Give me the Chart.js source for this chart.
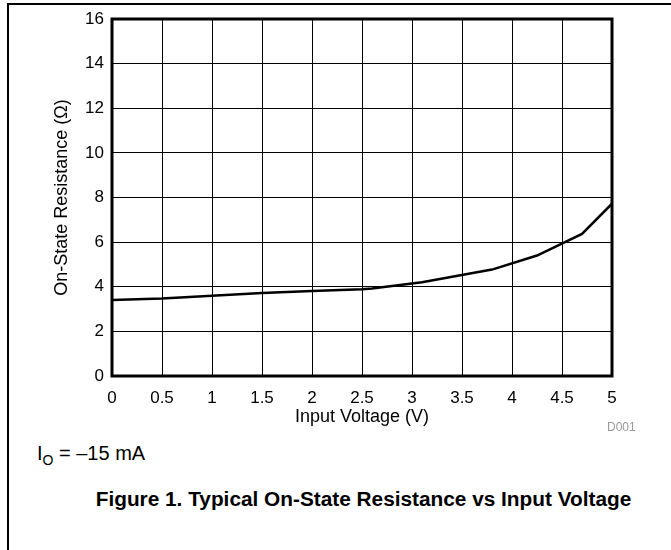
<!DOCTYPE html>
<html>
<head>
<meta charset="utf-8">
<script src="https://cdn.jsdelivr.net/npm/chart.js@4"></script>
<style>
  body { margin: 0; background: #fff; font-family: "Liberation Sans", Arial, sans-serif; }
  #frame { position: absolute; left: 7px; top: 3px; width: 664px; height: 547px;
           border-top: 2px solid #000; border-left: 2px solid #000; }
  #wrap { position: absolute; left: 0; top: 0; width: 671px; height: 440px; }
  .txt { position: absolute; color: #000; white-space: nowrap; }
</style>
</head>
<body>
<div id="frame"></div>
<div id="wrap"><canvas id="chart" width="671" height="440"></canvas></div>
<div class="txt" style="left:607px; top:420px; font-size:12px; color:#999;">D001</div>
<div class="txt" style="left:37px; top:442px; font-size:20px;">I<sub style="font-size:14px; vertical-align:-5px;">O</sub> = –15 mA</div>
<div class="txt" style="left:0; width:727px; text-align:center; top:488px; font-size:20px; font-weight:bold; transform:scaleX(1.04);">Figure 1. Typical On-State Resistance vs Input Voltage</div>
<script>
// Input voltage (V) and on-state resistance (ohm)
const voltage = [0, 0.5, 1, 1.5, 2, 2.5, 2.6, 3.1, 3.8, 4.25, 4.7, 5];
const resistance = [3.41, 3.47, 3.6, 3.72, 3.81, 3.89, 3.92, 4.2, 4.77, 5.4, 6.37, 7.72];
const xTicks = [0, 0.5, 1, 1.5, 2, 2.5, 3, 3.5, 4, 4.5, 5];
const yTicks = [0, 2, 4, 6, 8, 10, 12, 14, 16];

const points = voltage.map((v, i) => ({ x: v, y: resistance[i] }));

// thick box round the plot area
const plotBorder = {
    id: 'plotBorder',
    afterDatasetsDraw(chart) {
        const a = chart.chartArea;
        const c = chart.ctx;
        c.save();
        c.strokeStyle = '#000';
        c.lineWidth = 3;
        c.strokeRect(a.left, a.top, a.right - a.left, a.bottom - a.top);
        c.restore();
    }
};

const family = '"Liberation Sans", Arial, sans-serif';
const tickFont = { family: family, size: 17 };
const titleFont = { family: family, size: 18 };

new Chart(document.getElementById('chart'), {
    type: 'line',
    data: {
        datasets: [{
            data: points,
            borderColor: '#000',
            borderWidth: 2.5,
            pointRadius: 0,
            tension: 0,
            fill: false
        }]
    },
    options: {
        responsive: false,
        animation: false,
        layout: { padding: { top: 19, right: 59, left: 0, bottom: 0 } },
        plugins: { legend: { display: false }, tooltip: { enabled: false } },
        scales: {
            x: {
                type: 'linear',
                min: 0,
                max: 5,
                afterBuildTicks(scale) { scale.ticks = xTicks.map(v => ({ value: v })); },
                afterFit(scale) { scale.height = 64; },
                grid: { color: '#000', lineWidth: 1, drawTicks: false },
                border: { display: false },
                ticks: {
                    color: '#000', font: tickFont, padding: 12, maxRotation: 0,
                    callback: v => String(v)
                },
                title: { display: true, text: 'Input Voltage (V)', color: '#000', font: titleFont, padding: { top: 0, bottom: 12 } }
            },
            y: {
                min: 0,
                max: 16,
                afterBuildTicks(scale) { scale.ticks = yTicks.map(v => ({ value: v })); },
                afterFit(scale) { scale.width = 112; },
                grid: { color: '#000', lineWidth: 1, drawTicks: false },
                border: { display: false },
                ticks: { color: '#000', font: tickFont, padding: 8 },
                title: { display: true, text: 'On-State Resistance (Ω)', color: '#000', font: titleFont, padding: { top: 51, bottom: 0 } }
            }
        }
    },
    plugins: [plotBorder]
});
</script>
</body>
</html>
